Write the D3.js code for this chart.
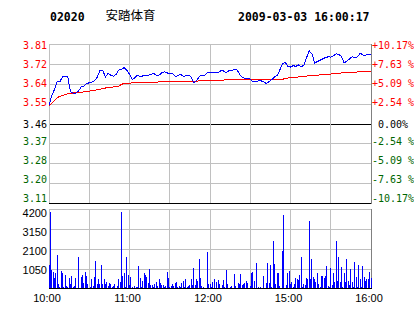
<!DOCTYPE html>
<html>
<head>
<meta charset="utf-8">
<script src="https://cdn.jsdelivr.net/npm/d3@7"></script>
<style>
body { margin: 0; background: #fff; }
svg { display: block; }
text { white-space: pre; }
</style>
</head>
<body>
<svg id="chart" width="414" height="314"></svg>
<script>
var stockCode = "02020",
    stockName = "安踏体育",
    stamp = "2009-03-03 16:00:17";

var prevClose = 3.46;
var pctTicks = [10.17, 7.63, 5.09, 2.54, 0, -2.54, -5.09, -7.63, -10.17];
var priceLabels = ["3.81", "3.72", "3.64", "3.55", "3.46", "3.37", "3.28", "3.20", "3.11"];
var pctLabels = ["+10.17%", "+7.63 %", "+5.09 %", "+2.54 %", " 0.00%", "-2.54 %", "-5.09 %", "-7.63 %", "-10.17%"];
var volTicks = [4200, 3150, 2100, 1050];
var timeLabels = ["10:00", "11:00", "12:00", "15:00", "16:00"];
var timeLabelMinutes = [0, 60, 120, 180, 240];

// last price, one sample every 2 trading minutes (0..240)
var price = [
    3.541, 3.581, 3.610, 3.644, 3.644, 3.666, 3.666, 3.666, 3.600, 3.595,
    3.595, 3.604, 3.622, 3.625, 3.637, 3.640, 3.644, 3.649, 3.666, 3.696,
    3.696, 3.666, 3.681, 3.674, 3.669, 3.678, 3.696, 3.699, 3.707, 3.696,
    3.678, 3.654, 3.663, 3.674, 3.666, 3.671, 3.674, 3.674, 3.678, 3.681,
    3.674, 3.674, 3.684, 3.689, 3.684, 3.681, 3.681, 3.669, 3.671, 3.678,
    3.669, 3.671, 3.674, 3.666, 3.640, 3.649, 3.669, 3.674, 3.674, 3.684,
    3.684,
    3.684, 3.687, 3.684, 3.693, 3.693, 3.684, 3.693, 3.694, 3.699, 3.699,
    3.678, 3.666, 3.660, 3.657, 3.657, 3.644, 3.644, 3.649, 3.649, 3.644,
    3.637, 3.646, 3.654, 3.666, 3.672, 3.696, 3.725, 3.731, 3.713, 3.710,
    3.716, 3.713, 3.719, 3.710, 3.719, 3.752, 3.781, 3.769, 3.728, 3.734,
    3.740, 3.746, 3.752, 3.755, 3.754, 3.760, 3.769, 3.766, 3.757, 3.728,
    3.737, 3.746, 3.755, 3.752, 3.755, 3.772, 3.763, 3.763, 3.766, 3.766
];

// average price, same sampling
var avgPrice = [
    3.537, 3.550, 3.562, 3.574, 3.580, 3.584, 3.587, 3.592, 3.593, 3.595,
    3.596, 3.597, 3.598, 3.600, 3.602, 3.603, 3.605, 3.607, 3.610, 3.612,
    3.614, 3.617, 3.619, 3.620, 3.622, 3.623, 3.625, 3.634, 3.636, 3.637,
    3.638, 3.640, 3.641, 3.643, 3.643, 3.643, 3.643, 3.643, 3.643, 3.643,
    3.643, 3.644, 3.644, 3.644, 3.644, 3.644, 3.644, 3.644, 3.644, 3.644,
    3.645, 3.645, 3.645, 3.645, 3.646, 3.647, 3.649, 3.649, 3.649, 3.649,
    3.649,
    3.649, 3.650, 3.650, 3.651, 3.652, 3.654, 3.655, 3.655, 3.655, 3.655,
    3.655, 3.655, 3.655, 3.655, 3.655, 3.655, 3.655, 3.655, 3.655, 3.655,
    3.655, 3.655, 3.655, 3.655, 3.655, 3.655, 3.655, 3.660, 3.661, 3.663,
    3.664, 3.665, 3.666, 3.667, 3.668, 3.670, 3.671, 3.672, 3.673, 3.674,
    3.675, 3.676, 3.677, 3.678, 3.679, 3.680, 3.681, 3.682, 3.684, 3.684,
    3.685, 3.686, 3.686, 3.687, 3.688, 3.689, 3.690, 3.690, 3.690, 3.690
];

// volume per minute (0..240)
var volume = [
    1260, 4050, 990, 900, 600, 815, 1790, 280, 100, 955,
    850, 100, 725, 140, 100, 600, 250, 670, 100, 180,
    600, 20, 1700, 20, 640, 725, 320, 900, 670, 250,
    70, 100, 500, 140, 640, 1490, 250, 500, 250, 1260,
    250, 550, 280, 370, 140, 320, 250, 100, 140, 250,
    20, 140, 550, 370, 4040, 670, 815, 100, 1665, 725,
    195, 640, 100, 70, 140, 100, 100, 1200, 600, 100,
    425, 850, 725, 640, 320, 1060, 195, 195, 100, 280,
    370, 140, 550, 320, 195, 195, 100, 140, 900, 600,
    100, 140, 280, 140, 320, 370, 100, 140, 100, 320,
    425, 100, 500, 100, 140, 195, 550, 195, 1080, 195,
    550, 425, 1560, 600, 140, 100, 70, 20, 1965, 280,
    250,
    100, 370, 500, 70, 370, 460, 280, 20, 195, 460,
    100, 990, 250, 20, 100, 140, 70, 780, 140, 70,
    320, 280, 780, 195, 250, 320, 425, 320, 20, 140,
    850, 900, 425, 20, 1380, 100, 20, 100, 20, 670,
    20, 320, 1380, 320, 1260, 100, 2500, 1310, 250, 815,
    850, 140, 20, 2020, 3860, 20, 195, 815, 955, 250,
    370, 100, 280, 600, 550, 460, 725, 1665, 100, 250,
    195, 600, 550, 3560, 500, 1560, 640, 550, 370, 815,
    250, 100, 670, 670, 600, 670, 1200, 140, 100, 1080,
    195, 815, 370, 2500, 425, 1700, 370, 1170, 100, 850,
    370, 1560, 425, 195, 1030, 370, 100, 1435, 640, 100,
    1260, 500, 100, 1200, 640, 425, 500, 500, 900, 600
];

var svg = d3.select("#chart");

var plotLeft = 49, plotRight = 371,
    plotTop = 44, plotBottom = 203,
    volTop = 209, volBottom = 288;

var grey = "#c0c0c0", red = "#ff0000", green = "#006600";

var x = d3.scaleLinear().domain([0, 240]).range([plotLeft, plotRight]);
var y = d3.scaleLinear().domain([-10.17, 10.17]).range([plotBottom, plotTop]);
var yVol = d3.scaleLinear().domain([0, 4200]).range([volBottom + 1, volTop]);

function pct(p) { return (p / prevClose - 1) * 100; }
function hx(v) { return Math.floor(v) + 0.5; }
function hy(v) { return Math.round(v) + 0.5; }

var gridMinutes = d3.range(30, 240, 30);

// header
svg.append("text").attr("x", 50).attr("y", 21)
    .style("font", "bold 11.5px 'DejaVu Sans Mono'").text(stockCode);
svg.append("text").attr("x", 105.5).attr("y", 20)
    .style("font", "12.5px 'Noto Sans CJK SC'").text(stockName);
svg.append("text").attr("x", 238).attr("y", 21)
    .style("font", "bold 11.5px 'DejaVu Sans Mono'").text(stamp);

// price grid
var grid = svg.append("g").attr("shape-rendering", "crispEdges");

grid.selectAll(".hgrid").data(pctTicks).enter().append("line")
    .attr("x1", plotLeft).attr("x2", plotRight + 1)
    .attr("y1", function(d) { return hy(y(d)); })
    .attr("y2", function(d) { return hy(y(d)); })
    .attr("stroke", function(d, i) { return (d === 0 || i === pctTicks.length - 1) ? "#000" : grey; });

grid.selectAll(".vgrid").data(gridMinutes).enter().append("line")
    .attr("x1", function(d) { return hx(x(d)); })
    .attr("x2", function(d) { return hx(x(d)); })
    .attr("y1", plotTop).attr("y2", plotBottom)
    .attr("stroke", grey);

grid.append("line").attr("x1", hx(plotLeft)).attr("x2", hx(plotLeft))
    .attr("y1", plotTop).attr("y2", plotBottom).attr("stroke", grey);
grid.append("line").attr("x1", hx(plotRight)).attr("x2", hx(plotRight))
    .attr("y1", plotTop).attr("y2", plotBottom + 1).attr("stroke", "#808080");

// volume grid
grid.selectAll(".vhgrid").data(volTicks).enter().append("line")
    .attr("x1", plotLeft).attr("x2", plotRight + 1)
    .attr("y1", function(d) { return hy(yVol(d)); })
    .attr("y2", function(d) { return hy(yVol(d)); })
    .attr("stroke", grey);

grid.selectAll(".vvgrid").data(gridMinutes).enter().append("line")
    .attr("x1", function(d) { return hx(x(d)); })
    .attr("x2", function(d) { return hx(x(d)); })
    .attr("y1", volTop).attr("y2", volBottom)
    .attr("stroke", grey);

grid.append("line").attr("x1", hx(plotLeft)).attr("x2", hx(plotLeft))
    .attr("y1", volTop).attr("y2", volBottom).attr("stroke", grey);
grid.append("line").attr("x1", hx(plotRight)).attr("x2", hx(plotRight))
    .attr("y1", volTop).attr("y2", volBottom + 1).attr("stroke", "#808080");

// volume bars
svg.append("g").attr("shape-rendering", "crispEdges")
    .selectAll("rect").data(volume).enter().append("rect")
    .attr("x", function(d, i) { return Math.floor(x(i)); })
    .attr("width", 1)
    .attr("y", function(d) { return Math.round(yVol(d)); })
    .attr("height", function(d) { return volBottom - Math.round(yVol(d)); })
    .attr("fill", "#0000ff");

svg.append("line").attr("shape-rendering", "crispEdges")
    .attr("x1", plotLeft).attr("x2", plotRight + 1)
    .attr("y1", volBottom + 0.5).attr("y2", volBottom + 0.5).attr("stroke", "#000");

// price lines
var line = d3.line()
    .x(function(d, i) { return x(i * 2); })
    .y(function(d) { return y(pct(d)); });

svg.append("path").datum(avgPrice)
    .attr("d", line).attr("fill", "none")
    .attr("stroke", red).attr("stroke-width", 1)
    .attr("shape-rendering", "crispEdges");

svg.append("path").datum(price)
    .attr("d", line).attr("fill", "none")
    .attr("stroke", "#0000ff").attr("stroke-width", 1)
    .attr("shape-rendering", "crispEdges");

// price axis labels
function labelY(i) {
    if (i < 4) return 45 + 19 * i;
    if (i === 4) return 124.5;
    return 141 + 19 * (i - 5);
}
function labelColor(i) {
    return i < 4 ? red : (i === 4 ? "#000" : green);
}

svg.selectAll(".plabel").data(priceLabels).enter().append("text")
    .attr("x", 47).attr("y", function(d, i) { return labelY(i); })
    .attr("dy", "0.36em").attr("text-anchor", "end")
    .attr("fill", function(d, i) { return labelColor(i); })
    .style("font", "10px 'DejaVu Sans Mono'")
    .text(function(d) { return d; });

svg.selectAll(".pctlabel").data(pctLabels).enter().append("text")
    .attr("x", 372).attr("y", function(d, i) { return labelY(i); })
    .attr("dy", "0.36em")
    .attr("fill", function(d, i) { return labelColor(i); })
    .style("font", "10px 'DejaVu Sans Mono'")
    .text(function(d) { return d; });

// volume labels
svg.selectAll(".vlabel").data(volTicks).enter().append("text")
    .attr("x", 47).attr("y", function(d, i) { return 213 + 19 * i; })
    .attr("dy", "0.36em").attr("text-anchor", "end")
    .style("font", "11px 'Liberation Sans'")
    .text(function(d) { return d; });

// time labels
svg.selectAll(".tlabel").data(timeLabels).enter().append("text")
    .attr("x", function(d, i) { return x(timeLabelMinutes[i]) - 2; })
    .attr("y", 302)
    .attr("text-anchor", "middle")
    .style("font", "11px 'Liberation Sans'")
    .text(function(d) { return d; });
</script>
</body>
</html>
